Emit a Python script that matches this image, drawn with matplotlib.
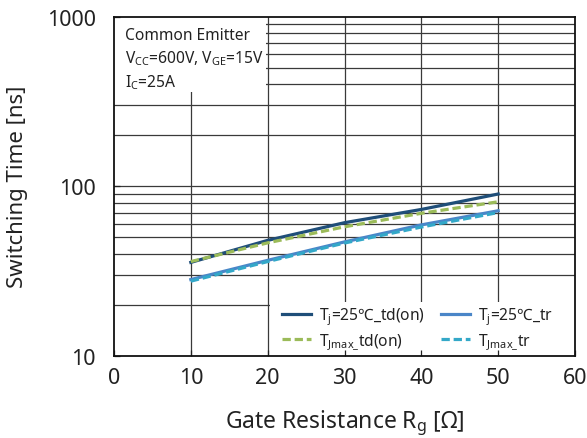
import matplotlib
matplotlib.use("Agg")
import matplotlib.pyplot as plt
from matplotlib.ticker import FixedLocator, NullFormatter, FixedFormatter
from matplotlib.patches import Rectangle

plt.rcParams['font.family'] = ['Noto Sans', 'DejaVu Sans']
plt.rcParams['mathtext.fontset'] = 'custom'
plt.rcParams['mathtext.rm'] = 'Noto Sans'
plt.rcParams['mathtext.it'] = 'Noto Sans:italic'

rg = [10, 20, 30, 40, 50]
td_on_25 = [35.6, 48, 61, 73, 90]
td_on_max = [36, 46.4, 57.7, 69.3, 81]
tr_25 = [28.2, 36.6, 47, 59.2, 71.7]
tr_max = [27.6, 36, 46.3, 57.5, 70]

labels = ["T$_\\mathrm{j}$=25\u2103_td(on)", "T$_\\mathrm{j}$=25\u2103_tr",
          "T$_\\mathrm{Jmax\\_}$td(on)", "T$_\\mathrm{Jmax\\_}$tr"]

W, H = 587, 439
fig = plt.figure(figsize=(W/100, H/100), dpi=100)
L, R, T, B = 114, 575, 17.5, 357
AW, AH = R-L, B-T
ax = fig.add_axes([L/W, 1-B/H, AW/W, AH/H])
ax.set_yscale('log')
ax.set_xlim(0, 60)
ax.set_ylim(10, 1000)

gc = '#3a3a3a'
for xv in [10, 20, 30, 40, 50]:
    ax.axvline(xv, color=gc, lw=0.9, zorder=1)
for dec in [10, 100]:
    for m in range(2, 10):
        ax.axhline(dec*m, color=gc, lw=0.9, zorder=1)
ax.axhline(100, color=gc, lw=0.9, zorder=1)

dash = (0, (2.6, 1.2))
l1, = ax.plot(rg, td_on_25, color='#1f4e79', lw=2.3, zorder=4)
l3, = ax.plot(rg, td_on_max, color='#9bbb59', lw=2.3, ls=dash, zorder=4)
l2, = ax.plot(rg, tr_25, color='#4a86c8', lw=2.3, zorder=4)
l4, = ax.plot(rg, tr_max, color='#33a8c8', lw=2.3, ls=dash, zorder=4)

ax.set_xticks([0, 10, 20, 30, 40, 50, 60])
ax.yaxis.set_major_locator(FixedLocator([10, 100, 1000]))
ax.yaxis.set_major_formatter(FixedFormatter(['10', '100', '1000']))
ax.yaxis.set_minor_locator(FixedLocator([]))
ax.yaxis.set_minor_formatter(NullFormatter())
ax.tick_params(direction='in', length=4, width=0.9, labelsize=15.5, colors='#222222')
ax.tick_params(axis='x', pad=8)
ax.tick_params(axis='y', pad=13)
for s in ax.spines.values():
    s.set_linewidth(1.3)
    s.set_color('#111111')
    s.set_zorder(6)

ax.set_ylabel('Switching Time [ns]', fontsize=16, labelpad=14, color='#222222')
ax.set_xlabel('Gate Resistance R$_\\mathrm{g}$ [\u03a9]', fontsize=16.5, labelpad=14, color='#222222')

# white background for the condition text (top-left)
ax.add_patch(Rectangle((0, 1-(93-T)/AH), (266-L)/AW, (93-T)/AH, transform=ax.transAxes,
                       fc='white', ec='none', zorder=1.5))
ax.text(11/AW, 1-10/AH,
        "Common Emitter\nV$_\\mathrm{CC}$=600V, V$_\\mathrm{GE}$=15V\nI$_\\mathrm{C}$=25A",
        transform=ax.transAxes, va='top', ha='left', fontsize=11.2, color='#222222',
        linespacing=1.38, zorder=5)

# white background for legend (bottom-right)
ax.add_patch(Rectangle(((270-L)/AW, 0), (R-270)/AW, (B-303)/AH, transform=ax.transAxes,
                       fc='white', ec='none', zorder=1.5))
leg = ax.legend([l1, l3, l2, l4], [labels[0], labels[2], labels[1], labels[3]],
                ncol=2, loc='center', bbox_to_anchor=((417.5-L)/AW, (B-329)/AH),
                fontsize=11.2, frameon=False,
                borderaxespad=0.0, handlelength=1.9, columnspacing=1.0,
                handletextpad=0.5, labelspacing=0.3, borderpad=0.0)
leg.set_zorder(5)
for t in leg.get_texts():
    t.set_color('#222222')

fig.savefig('out.png', dpi=100)
